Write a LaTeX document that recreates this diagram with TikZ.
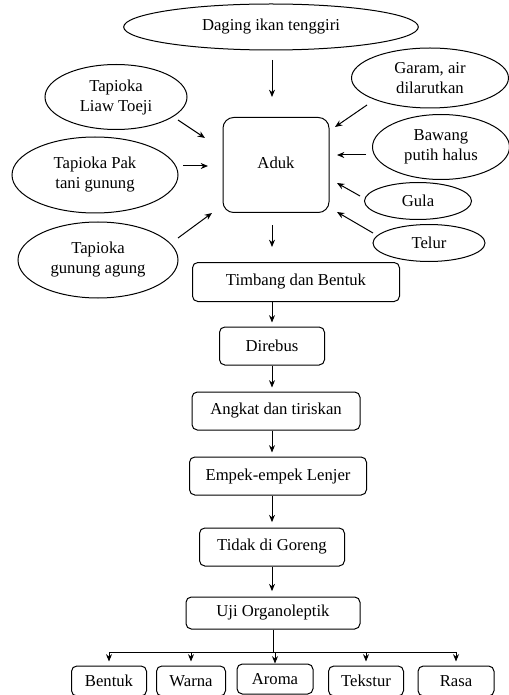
\documentclass[tikz,border=0pt]{standalone}
\usepackage{fontspec}
\setmainfont{Liberation Serif}
\usetikzlibrary{shapes.geometric,arrows.meta,calc}

\begin{document}
\begin{tikzpicture}[x=0.75pt,y=-0.75pt,
    font=\fontsize{12.5}{15}\selectfont,
    bahan/.style={draw,ellipse,inner sep=0pt,align=center,line width=0.75pt},
    proses/.style={draw,rectangle,rounded corners=4pt,inner sep=0pt,line width=0.75pt},
    panah/.style={-{Stealth[length=5.5pt,width=4.5pt]},line width=0.75pt}]
      \useasboundingbox (0,0) rectangle (509,695);
      % bahan
      \node[bahan,minimum width=221pt,minimum height=34.5pt] (daging) at (271,27) {Daging ikan tenggiri};
      \node[bahan,minimum width=106.5pt,minimum height=48.75pt] (liaw) at (116,97) {Tapioka\\Liaw Toeji};
      \node[bahan,minimum width=124.5pt,minimum height=57pt] (pak) at (95,175) {Tapioka Pak\\tani gunung};
      \node[bahan,minimum width=120pt,minimum height=57pt] (agung) at (98,260) {Tapioka\\gunung agung};
      \node[bahan,minimum width=117.75pt,minimum height=45pt] (garam) at (430,78) {Garam, air\\dilarutkan};
      \node[bahan,minimum width=102.75pt,minimum height=48.75pt] (bawang) at (441,147) {Bawang\\putih halus};
      \node[bahan,minimum width=80.25pt,minimum height=27.75pt] (gula) at (418,201) {Gula};
      \node[bahan,minimum width=84pt,minimum height=27.75pt] (telur) at (429,243) {Telur};
      % proses
      \node[proses,rounded corners=8pt,minimum width=79.5pt,minimum height=71.25pt] (aduk) at (276,165) {\raisebox{4pt}{Aduk}};
      \node[proses,minimum width=155.25pt,minimum height=29.25pt] (timbang) at (296,282) {Timbang dan Bentuk};
      \node[proses,minimum width=78.75pt,minimum height=28.5pt] (direbus) at (272,346) {Direbus};
      \node[proses,minimum width=126pt,minimum height=28.5pt] (angkat) at (276,411) {Angkat dan tiriskan};
      \node[proses,minimum width=132.75pt,minimum height=28.5pt] (empek) at (278,476) {Empek-empek Lenjer};
      \node[proses,minimum width=108.75pt,minimum height=28.5pt] (tidak) at (272,547) {Tidak di Goreng};
      \node[proses,minimum width=130.5pt,minimum height=24pt] (uji) at (273,613) {Uji Organoleptik};
      % parameter uji
      \node[proses,minimum width=56.25pt,minimum height=22.5pt] (bentuk) at (109,681) {Bentuk};
      \node[proses,minimum width=51.75pt,minimum height=22.5pt] (warna) at (191,681) {Warna};
      \node[proses,minimum width=57pt,minimum height=22.5pt] (aroma) at (275,679) {Aroma};
      \node[proses,minimum width=56.25pt,minimum height=22.5pt] (tekstur) at (366,681) {Tekstur};
      \node[proses,minimum width=57pt,minimum height=22.5pt] (rasa) at (456,681) {Rasa};
      \coordinate (cabang) at (273,652);
      % panah ke aduk
      \draw[panah] ($(daging)+(1,33)$) -- ($(aduk)+(-4,-68)$);
      \draw[panah] ($(liaw)+(62,23)$) -- ($(aduk)+(-71,-27)$);
      \draw[panah] ($(pak)+(88,-9)$) -- ($(aduk)+(-68,1)$);
      \draw[panah] ($(agung)+(80,-22)$) -- ($(aduk)+(-64,48)$);
      \draw[panah] ($(garam)+(-63,27)$) -- ($(aduk)+(59,-38)$);
      \draw[panah] ($(bawang)+(-75,8)$) -- ($(aduk)+(61,-10)$);
      \draw[panah] ($(gula)+(-58,-5)$) -- ($(aduk)+(61,18)$);
      \draw[panah] ($(telur)+(-56,-10)$) -- ($(aduk)+(61,47)$);
      % alur proses
      \draw[panah] ($(aduk)+(-4,60)$) -- ($(timbang)+(-24,-35)$);
      \draw[panah,shorten >=3pt] (timbang.south -| direbus) -- (direbus);
      \draw[panah,shorten >=3pt] (direbus) -- (direbus |- angkat.north);
      \draw[panah,shorten >=3pt] (tidak |- angkat.south) -- (tidak |- empek.north);
      \draw[panah,shorten >=4pt] (tidak |- empek.south) -- (tidak);
      \draw[panah,shorten >=4pt] (tidak) -- (tidak |- uji.north);
      \draw[line width=0.75pt] (uji) -- (cabang);
      \draw[line width=0.75pt] (bentuk |- cabang) -- (cabang -| rasa);
      \foreach \p in {bentuk,warna,tekstur,rasa}
        \draw[panah,shorten >=3pt] (\p |- cabang) -- (\p);
      \draw[panah] (aroma |- cabang) -- (aroma);
    \end{tikzpicture}
\end{document}
